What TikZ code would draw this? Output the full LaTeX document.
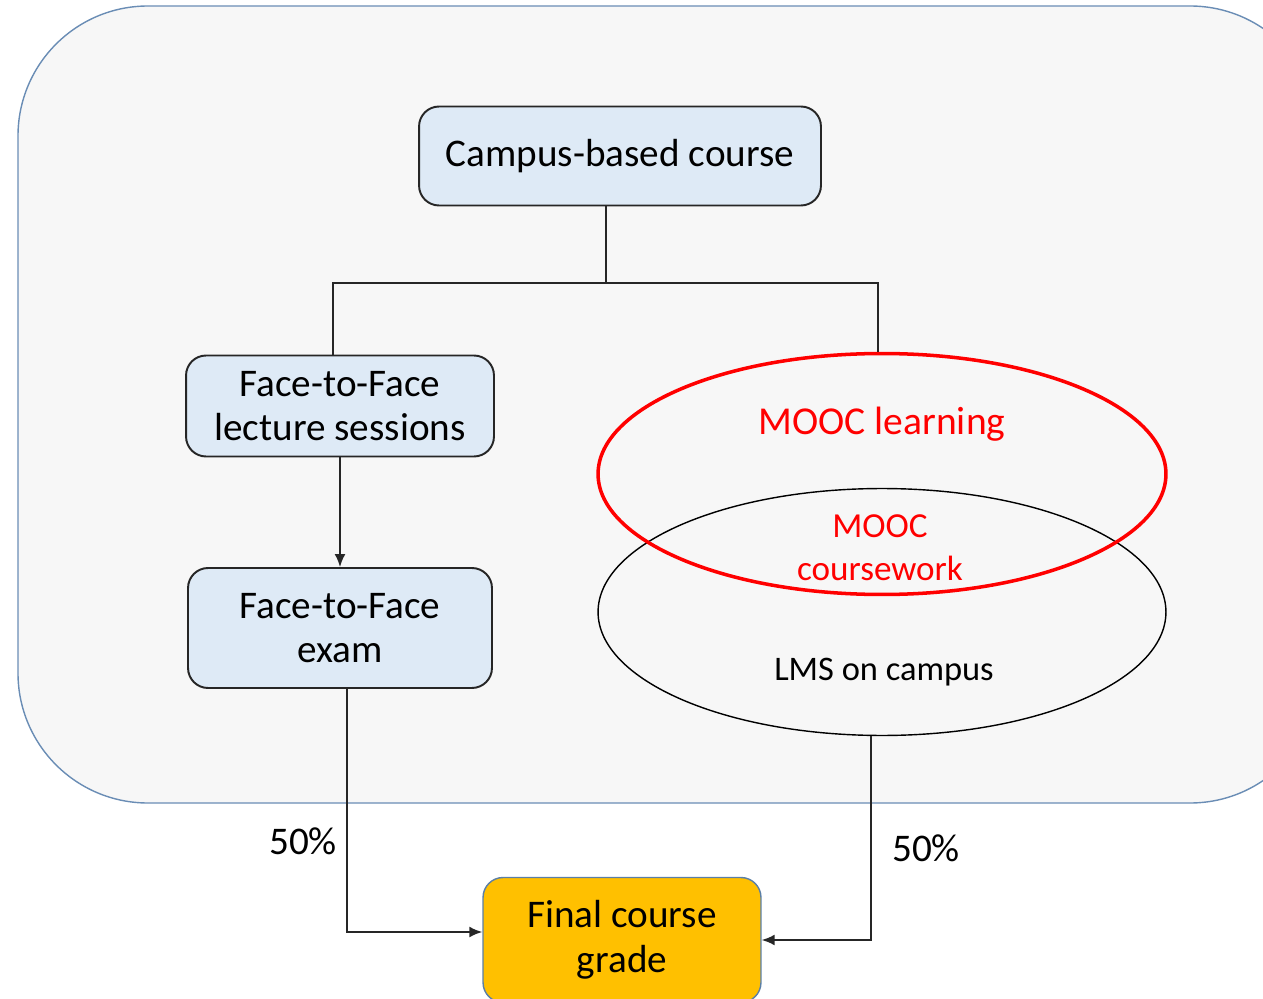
\documentclass[tikz,border=0pt]{standalone}
\usepackage{fontspec}
\setmainfont{Carlito}
\usetikzlibrary{shapes.geometric,arrows.meta}
\definecolor{boxblue}{HTML}{DEEAF6}
\definecolor{outerfill}{HTML}{F7F7F7}
\definecolor{outerline}{HTML}{6A8DB5}
\definecolor{gradeorange}{HTML}{FFC000}
\definecolor{gradeline}{HTML}{5B7FA6}
\definecolor{moocred}{HTML}{FF0000}

\begin{document}
\begin{tikzpicture}[x=0.02cm,y=-0.02cm,>={Latex[length=2.6mm,width=2.2mm]},
    main/.style = {draw=black!85, fill=boxblue, rounded corners=0.4cm, line width=1.1pt, align=center, font=\fontsize{22.3}{25.5}\selectfont},
    final/.style = {draw=gradeline, fill=gradeorange, rounded corners=0.4cm, line width=0.8pt, align=center, font=\fontsize{22.3}{25.5}\selectfont},
    oval/.style = {draw, ellipse, line width=0.8pt},
    lbl/.style = {align=center, font=\fontsize{22.3}{25.5}\selectfont},
    link/.style = {draw=black!85, line width=1.1pt}]
\useasboundingbox (0,0) rectangle (1263,999);
\draw[draw=outerline, fill=outerfill, line width=0.8pt, rounded corners=2.6cm] (18,6) rectangle (1320,803);
\node[main, minimum width=8.04cm, minimum height=1.98cm] (1) at (620,156) {Campus-based course};
\node[main, minimum width=6.16cm, minimum height=2.02cm] (2) at (340,406) {Face-to-Face\\lecture sessions};
\node[main, minimum width=6.08cm, minimum height=2.4cm] (3) at (340,628) {Face-to-Face\\exam};
\node[oval, minimum width=11.36cm, minimum height=4.94cm] (5) at (882,612) {};
\node[oval, draw=moocred, line width=2pt, minimum width=11.36cm, minimum height=4.82cm] (4) at (882,474) {};
\node[lbl, text=moocred, font=\fontsize{22.5}{25.5}\selectfont] (6) at (882,424) {MOOC learning};
\node[lbl, text=moocred, font=\fontsize{20}{24.4}\selectfont] (7) at (880,548) {MOOC\\coursework};
\node[lbl, font=\fontsize{19.6}{22}\selectfont] (8) at (884,672) {LMS on campus};
\node[final, minimum width=5.56cm, minimum height=2.5cm] (9) at (622,940) {Final course\\grade};
\node[lbl] (10) at (303,841) {50\%};
\node[lbl] (11) at (926,848) {50\%};
\coordinate (j) at (606,283);
\draw[link] (1.south -| j) -- (j);
\draw[link] ([xshift=-0.14cm]2.north) |- (j) -| ([xshift=-0.08cm]4.north);
\draw[link,->] (2) -- (3);
\draw[link,->] ([xshift=0.14cm]3.south) |- ([yshift=0.16cm]9.west);
\draw[link,->] ([xshift=-0.22cm]5.south) |- (9.east);
\end{tikzpicture}
\end{document}
